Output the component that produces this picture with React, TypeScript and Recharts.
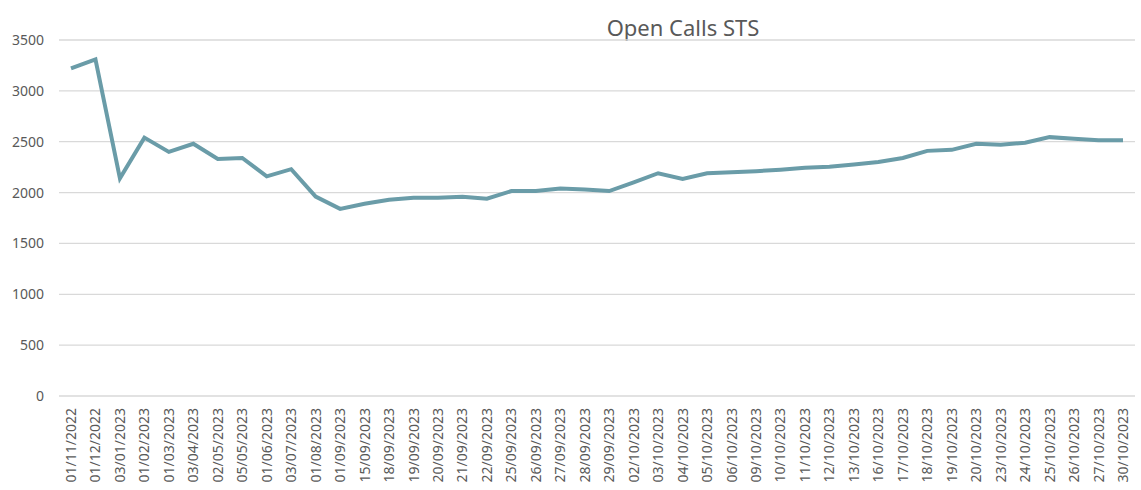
import React from 'react';
import { LineChart, Line, XAxis, YAxis, CartesianGrid } from 'recharts';

const dates = [
  '01/11/2022', '01/12/2022', '03/01/2023', '01/02/2023', '01/03/2023', '03/04/2023',
  '02/05/2023', '05/05/2023', '01/06/2023', '03/07/2023', '01/08/2023', '01/09/2023',
  '15/09/2023', '18/09/2023', '19/09/2023', '20/09/2023', '21/09/2023', '22/09/2023',
  '25/09/2023', '26/09/2023', '27/09/2023', '28/09/2023', '29/09/2023', '02/10/2023',
  '03/10/2023', '04/10/2023', '05/10/2023', '06/10/2023', '09/10/2023', '10/10/2023',
  '11/10/2023', '12/10/2023', '13/10/2023', '16/10/2023', '17/10/2023', '18/10/2023',
  '19/10/2023', '20/10/2023', '23/10/2023', '24/10/2023', '25/10/2023', '26/10/2023',
  '27/10/2023', '30/10/2023',
];

const openCalls = [
  3220, 3310, 2140, 2540, 2400, 2480,
  2330, 2340, 2160, 2230, 1960, 1840,
  1890, 1930, 1950, 1950, 1960, 1940,
  2015, 2015, 2040, 2030, 2015, 2100,
  2190, 2135, 2190, 2200, 2210, 2225,
  2245, 2255, 2275, 2300, 2340, 2410,
  2420, 2480, 2470, 2490, 2545, 2530,
  2515, 2515,
];

const yTicks = [0, 500, 1000, 1500, 2000, 2500, 3000, 3500];

const data = dates.map((d, i) => ({ date: d, calls: openCalls[i] }));

const FONT = '"Noto Sans", sans-serif';
const GREY = '#595959';

const DateTick = (props: any) => {
  const { x, payload } = props;
  return (
    <g transform={`translate(${x},408)`}>
      <text
        transform="rotate(-90)"
        textAnchor="end"
        dy={5}
        fill={GREY}
        fontSize={14}
        fontFamily={FONT}
      >
        {payload.value}
      </text>
    </g>
  );
};

export default function App() {
  return (
    <div style={{ position: 'absolute', left: 0, top: 0, width: 1141, height: 490, background: '#fff' }}>
      <div
        style={{
          position: 'absolute',
          left: 563,
          width: 240,
          top: 12,
          textAlign: 'center',
          fontFamily: FONT,
          fontSize: 22,
          lineHeight: '30px',
          color: GREY,
        }}
      >
        Open Calls STS
      </div>
      <LineChart width={1141} height={490} data={data} margin={{ top: 40, right: 6, bottom: 0, left: 0 }}>
        <CartesianGrid vertical={false} stroke="#d9d9d9" strokeWidth={1.3} />
        <XAxis
          dataKey="date"
          interval={0}
          height={94}
          padding={{ left: 12, right: 12 }}
          axisLine={false}
          tickLine={false}
          tick={<DateTick />}
        />
        <YAxis
          width={59}
          domain={[0, 3500]}
          ticks={yTicks}
          axisLine={false}
          tickLine={false}
          tickSize={0}
          tickMargin={15}
          tick={{ fill: GREY, fontSize: 14, fontFamily: FONT }}
        />
        <Line
          type="linear"
          dataKey="calls"
          stroke="#6A9CA8"
          strokeWidth={4}
          dot={false}
          isAnimationActive={false}
        />
      </LineChart>
    </div>
  );
}
